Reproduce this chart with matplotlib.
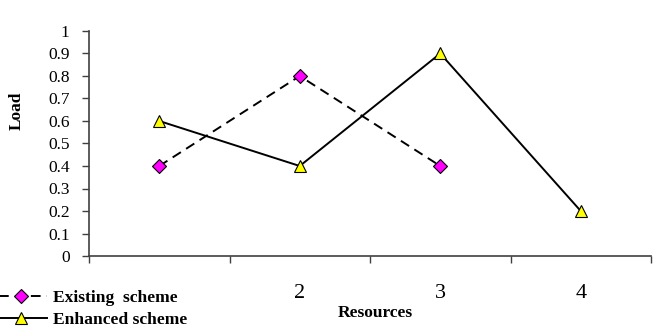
import matplotlib
matplotlib.use("Agg")
import matplotlib.pyplot as plt
from matplotlib.ticker import FixedLocator, NullFormatter, FixedFormatter

categories = [1, 2, 3, 4]
# the label "1" is hidden behind the legend in the reference
category_labels = ["", "2", "3", "4"]
existing_x = [1, 2, 3]
existing = [0.4, 0.8, 0.4]
enhanced_x = [1, 2, 3, 4]
enhanced = [0.6, 0.4, 0.9, 0.2]
yticks = [0, 0.1, 0.2, 0.3, 0.4, 0.5, 0.6, 0.7, 0.8, 0.9, 1]
ytick_labels = ["0", "0.1", "0.2", "0.3", "0.4", "0.5", "0.6", "0.7", "0.8", "0.9", "1"]

plt.rcParams['font.family'] = ['Liberation Serif', 'DejaVu Serif']

fig = plt.figure(figsize=(6.61, 3.34), dpi=100)
ax = fig.add_axes([89/661, 78/334, (651-89)/661, (256-31)/334])

l1, = ax.plot(existing_x, existing, color='black', lw=1.4, dashes=(5, 3.2),
              marker='D', markersize=7.5, markerfacecolor='#FF00FF', markeredgecolor='black',
              markeredgewidth=0.8, label='Existing  scheme')
l2, = ax.plot(enhanced_x, enhanced, color='black', lw=1.4,
              marker='^', markersize=8, markerfacecolor='#FFFF00', markeredgecolor='black',
              markeredgewidth=0.8, label='Enhanced scheme')

ax.set_xlim(0.5, 4.5)
ax.set_ylim(0, 1)
ax.set_yticks(yticks)
ax.set_yticklabels(ytick_labels, fontsize=12.5)

ax.xaxis.set_major_locator(FixedLocator([0.5, 1.5, 2.5, 3.5, 4.5]))
ax.xaxis.set_major_formatter(NullFormatter())
ax.xaxis.set_minor_locator(FixedLocator(categories))
ax.xaxis.set_minor_formatter(FixedFormatter(category_labels))
ax.tick_params(axis='x', which='major', length=5, width=1, color='#404040')
ax.tick_params(axis='x', which='minor', length=0, labelsize=16, pad=20)
ax.tick_params(axis='y', length=5, width=1, color='#404040', pad=9)

for s in ['top', 'right']:
    ax.spines[s].set_visible(False)
for s in ['left', 'bottom']:
    ax.spines[s].set_color('#404040')
    ax.spines[s].set_linewidth(1.2)

ax.set_xlabel('Resources', fontsize=12.5, fontweight='bold', va='top')
ax.xaxis.set_label_coords(0.51, -0.217)
ax.set_ylabel('Load', fontsize=12.5, fontweight='bold', va='center')
ax.yaxis.set_label_coords(-0.129, 0.644)

leg = fig.legend(handles=[l1, l2], loc='lower left', bbox_to_anchor=(-0.012, 0.01),
                 frameon=True, fontsize=12.6, handlelength=3.0, handletextpad=0.33,
                 labelspacing=0.35, borderpad=0.15, borderaxespad=0)
leg.get_frame().set_facecolor('white')
leg.get_frame().set_edgecolor('none')
leg.get_frame().set_alpha(1)
for t in leg.get_texts():
    t.set_fontweight('bold')

fig.savefig('out.png', dpi=100)
